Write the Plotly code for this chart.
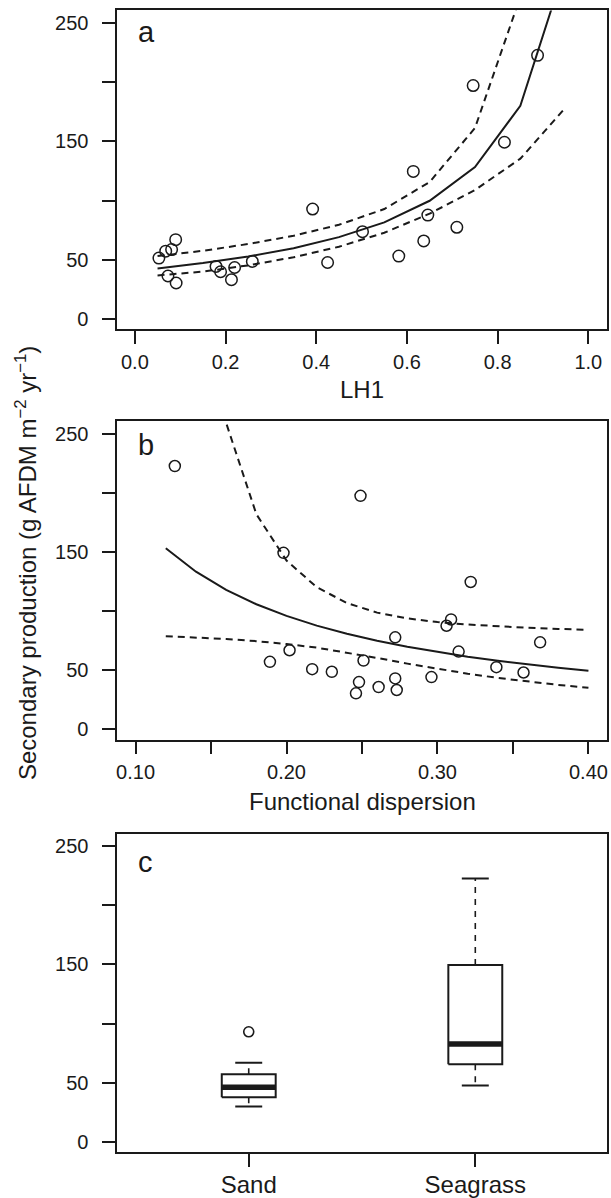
import plotly.graph_objects as go

# ---------------- data ----------------
# Panel a: secondary production vs LH1
lh1_x = [0.053, 0.068, 0.081, 0.090, 0.073, 0.091, 0.179, 0.189, 0.220, 0.213, 0.259,
         0.392, 0.425, 0.502, 0.582, 0.614, 0.637, 0.646, 0.710, 0.746, 0.815, 0.888]
lh1_y = [51.5, 57.4, 58.7, 67.1, 36.4, 30.5, 44.5, 40.0, 43.6, 33.3, 48.7,
         92.9, 47.8, 73.8, 53.2, 124.7, 66.0, 87.8, 77.5, 197.1, 149.3, 222.6]
lh1_grid = [0.05, 0.15, 0.25, 0.35, 0.45, 0.55, 0.65, 0.75, 0.85, 0.95]
lh1_fit = [42.8, 47.3, 52.9, 59.9, 69.2, 81.7, 99.9, 128.4, 180.0, 299.0]
lh1_upper = [53.2, 57.7, 63.4, 70.4, 79.6, 92.9, 115.7, 161.3, 272.0, 930.0]
lh1_lower = [36.9, 40.1, 45.4, 52.2, 61.1, 72.9, 89.0, 109.0, 135.4, 178.7]

# Panel b: secondary production vs functional dispersion
fd_x = [0.126, 0.249, 0.198, 0.322, 0.309, 0.306, 0.272, 0.368, 0.202, 0.314, 0.189,
        0.251, 0.217, 0.230, 0.339, 0.357, 0.248, 0.246, 0.261, 0.272, 0.273, 0.296]
fd_y = [222.6, 197.4, 149.2, 124.6, 92.9, 87.6, 77.8, 73.6, 66.9, 65.8, 57.1,
        58.2, 50.9, 48.7, 52.6, 48.1, 40.0, 30.5, 35.8, 43.1, 33.3, 44.2]
fd_grid = [0.12, 0.14, 0.16, 0.18, 0.20, 0.22, 0.24, 0.26, 0.28, 0.30,
           0.32, 0.34, 0.36, 0.38, 0.40]
fd_fit = [153.1, 133.3, 117.9, 105.8, 95.9, 87.7, 80.8, 74.9, 69.8, 65.4,
          61.5, 58.0, 54.9, 52.1, 49.6]
fd_upper = [2700.0, 467.0, 259.0, 181.9, 142.7, 120.2, 106.8, 98.7, 93.8, 90.7,
            88.6, 87.1, 85.9, 84.9, 84.2]
fd_lower = [78.8, 77.7, 76.4, 74.6, 72.2, 69.1, 65.0, 60.4, 55.6, 51.1,
            47.1, 43.5, 40.3, 37.6, 35.1]

# Panel c: boxplot statistics by habitat
habitats = ["Sand", "Seagrass"]
box_lo = [30.2, 47.9]
box_q1 = [38.1, 65.8]
box_med = [46.5, 82.9]
box_q3 = [57.4, 149.5]
box_hi = [67.2, 222.5]
sand_outliers = [93.2]

y_ticks = [0, 50, 100, 150, 200, 250]
y_ticktext = ["0", "50", "", "150", "", "250"]
lh1_ticks = [0.0, 0.2, 0.4, 0.6, 0.8, 1.0]
lh1_ticktext = ["0.0", "0.2", "0.4", "0.6", "0.8", "1.0"]
fd_ticks = [0.10, 0.15, 0.20, 0.25, 0.30, 0.35, 0.40]
fd_ticktext = ["0.10", "", "0.20", "", "0.30", "", "0.40"]

# ---------------- styling ----------------
W, H = 611, 1198
INK = "#1a1a1a"
FONT = "Liberation Sans, Arial, Helvetica, sans-serif"
LW = 2.0
DASH = "7px,5px"
BOX_HALF = 0.119
CAP_HALF = 0.0595


def fy(p):
    return 1 - p / H


fig = go.Figure()

# panel a
fig.add_trace(go.Scatter(x=lh1_x, y=lh1_y, mode="markers", xaxis="x", yaxis="y",
                         marker=dict(symbol="circle-open", size=11.5, color=INK,
                                     line=dict(width=1.5, color=INK))))
fig.add_trace(go.Scatter(x=lh1_grid, y=lh1_fit, mode="lines", xaxis="x", yaxis="y",
                         line=dict(color=INK, width=LW)))
fig.add_trace(go.Scatter(x=lh1_grid, y=lh1_upper, mode="lines", xaxis="x", yaxis="y",
                         line=dict(color=INK, width=LW, dash=DASH)))
fig.add_trace(go.Scatter(x=lh1_grid, y=lh1_lower, mode="lines", xaxis="x", yaxis="y",
                         line=dict(color=INK, width=LW, dash=DASH)))

# panel b
fig.add_trace(go.Scatter(x=fd_x, y=fd_y, mode="markers", xaxis="x2", yaxis="y2",
                         marker=dict(symbol="circle-open", size=11, color=INK,
                                     line=dict(width=1.5, color=INK))))
fig.add_trace(go.Scatter(x=fd_grid, y=fd_fit, mode="lines", xaxis="x2", yaxis="y2",
                         line=dict(color=INK, width=LW)))
fig.add_trace(go.Scatter(x=fd_grid, y=fd_upper, mode="lines", xaxis="x2", yaxis="y2",
                         line=dict(color=INK, width=LW, dash=DASH)))
fig.add_trace(go.Scatter(x=fd_grid, y=fd_lower, mode="lines", xaxis="x2", yaxis="y2",
                         line=dict(color=INK, width=LW, dash=DASH)))

# panel c: boxplots built from the statistics
for i, name in enumerate(habitats):
    c = i + 1
    # whiskers (dashed)
    fig.add_trace(go.Scatter(x=[c, c, None, c, c],
                             y=[box_q3[i], box_hi[i], None, box_q1[i], box_lo[i]],
                             mode="lines", xaxis="x3", yaxis="y3",
                             line=dict(color=INK, width=1.6, dash="6px,6px")))
    # caps
    fig.add_trace(go.Scatter(x=[c - CAP_HALF, c + CAP_HALF, None, c - CAP_HALF, c + CAP_HALF],
                             y=[box_hi[i], box_hi[i], None, box_lo[i], box_lo[i]],
                             mode="lines", xaxis="x3", yaxis="y3",
                             line=dict(color=INK, width=LW)))
    # box
    fig.add_trace(go.Scatter(x=[c - BOX_HALF, c + BOX_HALF, c + BOX_HALF, c - BOX_HALF, c - BOX_HALF],
                             y=[box_q1[i], box_q1[i], box_q3[i], box_q3[i], box_q1[i]],
                             mode="lines", xaxis="x3", yaxis="y3",
                             line=dict(color=INK, width=LW)))
    # median
    fig.add_trace(go.Scatter(x=[c - BOX_HALF, c + BOX_HALF], y=[box_med[i], box_med[i]],
                             mode="lines", xaxis="x3", yaxis="y3",
                             line=dict(color=INK, width=5.5)))

fig.add_trace(go.Scatter(x=[1] * len(sand_outliers), y=sand_outliers, mode="markers",
                         xaxis="x3", yaxis="y3",
                         marker=dict(symbol="circle-open", size=10, color=INK,
                                     line=dict(width=1.6, color=INK))))

axis_common = dict(showline=True, mirror=True, linecolor=INK, linewidth=1.8,
                   ticks="outside", ticklen=13, tickwidth=1.8, tickcolor=INK,
                   showgrid=False, zeroline=False,
                   tickfont=dict(family=FONT, size=20, color=INK))

xdom = [116.7 / W, 607.7 / W]
yr = [-8.6, 260.5]

fig.update_layout(
    width=W, height=H, margin=dict(l=0, r=0, t=0, b=0),
    paper_bgcolor="white", plot_bgcolor="white", showlegend=False,
    xaxis=dict(domain=xdom, anchor="y", range=[-0.0387, 1.0405],
               tickvals=lh1_ticks, ticktext=lh1_ticktext, ticklabelstandoff=1, **axis_common),
    yaxis=dict(domain=[fy(331), fy(10.5)], anchor="x", range=yr,
               tickvals=y_ticks, ticktext=y_ticktext, ticklabelstandoff=10, **axis_common),
    xaxis2=dict(domain=xdom, anchor="y2", range=[0.0879, 0.4121],
                tickvals=fd_ticks, ticktext=fd_ticktext, ticklabelstandoff=1, **axis_common),
    yaxis2=dict(domain=[fy(743.3), fy(423.3)], anchor="x2", range=yr,
                tickvals=y_ticks, ticktext=y_ticktext, ticklabelstandoff=10, **axis_common),
    xaxis3=dict(domain=xdom, anchor="y3", range=[0.42, 2.58],
                tickvals=[1, 2], ticktext=habitats, ticklabelstandoff=-3,
                **{**axis_common, "tickfont": dict(family=FONT, size=24, color=INK)}),
    yaxis3=dict(domain=[fy(1158.3), fy(837.7)], anchor="x3", range=yr,
                tickvals=y_ticks, ticktext=y_ticktext, ticklabelstandoff=10, **axis_common),
)

ann_font = dict(family=FONT, size=24, color=INK)
letter_font = dict(family=FONT, size=29, color=INK)
xc = (116.7 + 607.7) / 2 / W
annotations = [
    dict(text="LH1", x=xc, y=fy(391), xref="paper", yref="paper",
         xanchor="center", yanchor="middle", showarrow=False, font=ann_font),
    dict(text="Functional dispersion", x=xc, y=fy(805.5), xref="paper", yref="paper",
         xanchor="center", yanchor="middle", showarrow=False, font=ann_font),
    dict(text="Secondary production (g AFDM m<sup>\u22122</sup> yr<sup>\u22121</sup>)",
         x=25 / W, y=fy(566), xref="paper", yref="paper", textangle=-90,
         xanchor="center", yanchor="middle", showarrow=False, font=ann_font),
    dict(text="a", x=135 / W, y=fy(32.5), xref="paper", yref="paper",
         xanchor="left", yanchor="middle", showarrow=False, font=letter_font),
    dict(text="b", x=135 / W, y=fy(447.5), xref="paper", yref="paper",
         xanchor="left", yanchor="middle", showarrow=False, font=letter_font),
    dict(text="c", x=135 / W, y=fy(866), xref="paper", yref="paper",
         xanchor="left", yanchor="middle", showarrow=False, font=letter_font),
]
fig.update_layout(annotations=annotations)

fig.write_html("out.html",
               config={"displayModeBar": False},
               post_script="document.body.style.margin='0';"
                           "document.body.style.overflow='hidden';")
